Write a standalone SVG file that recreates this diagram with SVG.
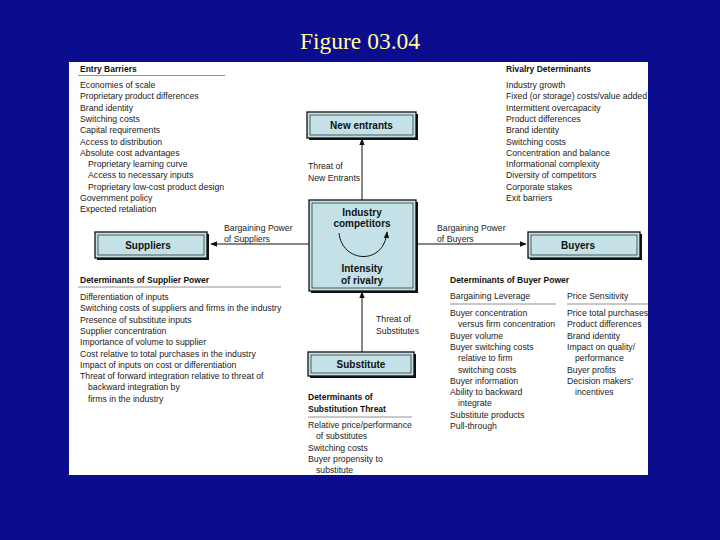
<svg xmlns="http://www.w3.org/2000/svg" width="720" height="540" viewBox="0 0 720 540">
<defs>
<style>
.t{font-family:"Liberation Sans",Arial,sans-serif;font-size:8.7px;fill:#222}
.h{font-family:"Liberation Sans",Arial,sans-serif;font-size:8.5px;font-weight:bold;fill:#111}
.b{font-family:"Liberation Sans",Arial,sans-serif;font-size:10px;font-weight:bold;fill:#111;text-anchor:middle}
.box{fill:#c3e1e7;stroke:#111;stroke-width:1.3}
.inner{fill:none;stroke:#222;stroke-width:0.7}
.sh{fill:#111}
.rule{stroke:#777;stroke-width:0.8}
.ln{stroke:#111;stroke-width:1;fill:none}
</style>
<marker id="ah" viewBox="0 0 10 10" refX="9" refY="5" markerWidth="7" markerHeight="7" orient="auto" markerUnits="userSpaceOnUse">
<path d="M0,1 L10,5 L0,9 Z" fill="#111"/>
</marker>
<clipPath id="panel"><rect x="69" y="62" width="579" height="413"/></clipPath>
</defs>
<rect width="720" height="540" fill="#0c0c8e"/>
<text x="360" y="49" text-anchor="middle" font-family="'Liberation Serif','Times New Roman',serif" font-size="23.5" fill="#ffff99">Figure 03.04</text>
<rect x="69" y="62" width="579" height="413" fill="#ffffff"/>

<g clip-path="url(#panel)">
<g id="entry-barriers">
<text class="h" x="80" y="72">Entry Barriers</text>
<line class="rule" x1="78" y1="75.5" x2="225" y2="75.5"/>
<text class="t" x="80" y="88">Economies of scale</text>
<text class="t" x="80" y="99.3">Proprietary product differences</text>
<text class="t" x="80" y="110.6">Brand identity</text>
<text class="t" x="80" y="121.9">Switching costs</text>
<text class="t" x="80" y="133.2">Capital requirements</text>
<text class="t" x="80" y="144.5">Access to distribution</text>
<text class="t" x="80" y="155.8">Absolute cost advantages</text>
<text class="t" x="88" y="167.1">Proprietary learning curve</text>
<text class="t" x="88" y="178.4">Access to necessary inputs</text>
<text class="t" x="88" y="189.7">Proprietary low-cost product design</text>
<text class="t" x="80" y="201">Government policy</text>
<text class="t" x="80" y="212.3">Expected retaliation</text>
</g>

<g id="rivalry-determinants">
<text class="h" x="506" y="72">Rivalry Determinants</text>
<text class="t" x="506" y="88">Industry growth</text>
<text class="t" x="506" y="99.3">Fixed (or storage) costs/value added</text>
<text class="t" x="506" y="110.6">Intermittent overcapacity</text>
<text class="t" x="506" y="121.9">Product differences</text>
<text class="t" x="506" y="133.2">Brand identity</text>
<text class="t" x="506" y="144.5">Switching costs</text>
<text class="t" x="506" y="155.8">Concentration and balance</text>
<text class="t" x="506" y="167.1">Informational complexity</text>
<text class="t" x="506" y="178.4">Diversity of competitors</text>
<text class="t" x="506" y="189.7">Corporate stakes</text>
<text class="t" x="506" y="201">Exit barriers</text>
</g>

<g id="connectors">
<line class="ln" x1="362" y1="200" x2="362" y2="139" marker-end="url(#ah)"/>
<line class="ln" x1="362" y1="352" x2="362" y2="292" marker-end="url(#ah)"/>
<line class="ln" x1="309" y1="244" x2="211" y2="244" marker-end="url(#ah)"/>
<line class="ln" x1="416" y1="244" x2="526" y2="244" marker-end="url(#ah)"/>
</g>

<g id="connector-labels">
<text class="t" x="308" y="169">Threat of</text>
<text class="t" x="308" y="180.5">New Entrants</text>
<text class="t" x="224" y="231">Bargaining Power</text>
<text class="t" x="224" y="242">of Suppliers</text>
<text class="t" x="437" y="231">Bargaining Power</text>
<text class="t" x="437" y="242">of Buyers</text>
<text class="t" x="376" y="322">Threat of</text>
<text class="t" x="376" y="333.5">Substitutes</text>
</g>

<g id="new-entrants">
<rect class="sh" x="309" y="114" width="109" height="26"/>
<rect class="box" x="307" y="112" width="109" height="26"/>
<rect class="inner" x="310" y="115" width="103" height="20"/>
<text class="b" x="361.5" y="128.5">New entrants</text>
</g>

<g id="industry-competitors">
<rect class="sh" x="311" y="202" width="107" height="91"/>
<rect class="box" x="309" y="200" width="107" height="91"/>
<rect class="inner" x="312" y="203" width="101" height="85"/>
<text class="b" x="362" y="216">Industry</text>
<text class="b" x="362" y="227">competitors</text>
<path class="ln" d="M339 233 C342 263,384 266,387 232" marker-end="url(#ah)"/>
<text class="b" x="362" y="272">Intensity</text>
<text class="b" x="362" y="284">of rivalry</text>
</g>

<g id="suppliers">
<rect class="sh" x="97" y="234" width="112" height="26"/>
<rect class="box" x="95" y="232" width="112" height="26"/>
<rect class="inner" x="98" y="235" width="106" height="20"/>
<text class="b" x="148" y="249">Suppliers</text>
</g>

<g id="buyers">
<rect class="sh" x="530" y="234" width="112" height="26"/>
<rect class="box" x="528" y="232" width="112" height="26"/>
<rect class="inner" x="531" y="235" width="106" height="20"/>
<text class="b" x="578" y="249">Buyers</text>
</g>

<g id="substitute">
<rect class="sh" x="310" y="354" width="106" height="24"/>
<rect class="box" x="308" y="352" width="106" height="24"/>
<rect class="inner" x="311" y="355" width="100" height="18"/>
<text class="b" x="361" y="368">Substitute</text>
</g>

<g id="supplier-power">
<text class="h" x="80" y="283">Determinants of Supplier Power</text>
<line class="rule" x1="78" y1="287" x2="281" y2="287"/>
<text class="t" x="80" y="300">Differentiation of inputs</text>
<text class="t" x="80" y="311.3">Switching costs of suppliers and firms in the industry</text>
<text class="t" x="80" y="322.6">Presence of substitute inputs</text>
<text class="t" x="80" y="333.9">Supplier concentration</text>
<text class="t" x="80" y="345.2">Importance of volume to supplier</text>
<text class="t" x="80" y="356.5">Cost relative to total purchases in the industry</text>
<text class="t" x="80" y="367.8">Impact of inputs on cost or differentiation</text>
<text class="t" x="80" y="379.1">Threat of forward integration relative to threat of</text>
<text class="t" x="88" y="390.4">backward integration by</text>
<text class="t" x="88" y="401.7">firms in the industry</text>
</g>

<g id="buyer-power">
<text class="h" x="450" y="283">Determinants of Buyer Power</text>
<text class="t" x="450" y="299">Bargaining Leverage</text>
<text class="t" x="567" y="299">Price Sensitivity</text>
<line class="rule" x1="450" y1="304" x2="556" y2="304"/>
<line class="rule" x1="567" y1="304" x2="650" y2="304"/>
<text class="t" x="450" y="316">Buyer concentration</text>
<text class="t" x="458" y="327.3">versus firm concentration</text>
<text class="t" x="450" y="338.6">Buyer volume</text>
<text class="t" x="450" y="349.9">Buyer switching costs</text>
<text class="t" x="458" y="361.2">relative to firm</text>
<text class="t" x="458" y="372.5">switching costs</text>
<text class="t" x="450" y="383.8">Buyer information</text>
<text class="t" x="450" y="395.1">Ability to backward</text>
<text class="t" x="458" y="406.4">integrate</text>
<text class="t" x="450" y="417.7">Substitute products</text>
<text class="t" x="450" y="429">Pull-through</text>
<text class="t" x="567" y="316">Price total purchases</text>
<text class="t" x="567" y="327.3">Product differences</text>
<text class="t" x="567" y="338.6">Brand identity</text>
<text class="t" x="567" y="349.9">Impact on quality/</text>
<text class="t" x="575" y="361.2">performance</text>
<text class="t" x="567" y="372.5">Buyer profits</text>
<text class="t" x="567" y="383.8">Decision makers'</text>
<text class="t" x="575" y="395.1">incentives</text>
</g>

<g id="substitution-threat">
<text class="h" x="308" y="400">Determinants of</text>
<text class="h" x="308" y="412">Substitution Threat</text>
<line class="rule" x1="308" y1="417" x2="412" y2="417"/>
<text class="t" x="308" y="428">Relative price/performance</text>
<text class="t" x="316" y="439.3">of substitutes</text>
<text class="t" x="308" y="450.6">Switching costs</text>
<text class="t" x="308" y="461.9">Buyer propensity to</text>
<text class="t" x="316" y="473.2">substitute</text>
</g>
</g>
</svg>
